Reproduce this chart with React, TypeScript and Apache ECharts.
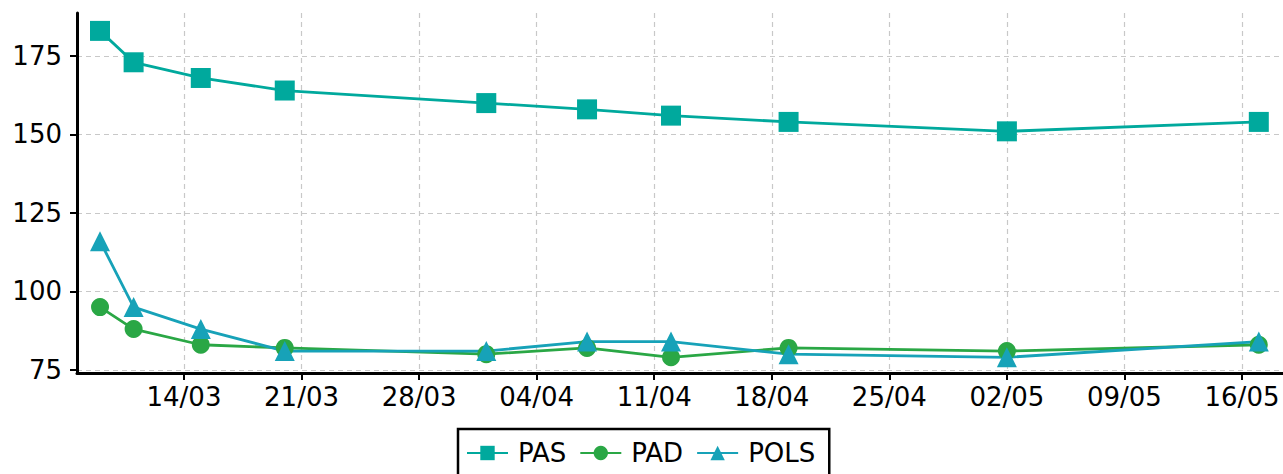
import React, { useEffect, useRef } from "react";
import * as echarts from "echarts";

const dates = [
  "2021-03-09", "2021-03-11", "2021-03-15", "2021-03-20", "2021-04-01",
  "2021-04-07", "2021-04-12", "2021-04-19", "2021-05-02", "2021-05-17",
];
const pas = [183, 173, 168, 164, 160, 158, 156, 154, 151, 154];
const pad = [95, 88, 83, 82, 80, 82, 79, 82, 81, 83];
const pols = [116, 95, 88, 81, 81, 84, 84, 80, 79, 84];
const xTicks = [
  "2021-03-14", "2021-03-21", "2021-03-28", "2021-04-04", "2021-04-11",
  "2021-04-18", "2021-04-25", "2021-05-02", "2021-05-09", "2021-05-16",
];
const yTicks = [75, 100, 125, 150, 175];

const DAY = 86400000;
const ts = (s: string) => {
  const [y, m, d] = s.split("-").map(Number);
  return Date.UTC(y, m - 1, d);
};
const fmt = (v: number) => {
  const d = new Date(v);
  const dd = String(d.getUTCDate()).padStart(2, "0");
  const mm = String(d.getUTCMonth() + 1).padStart(2, "0");
  return dd + "/" + mm;
};

export default function App() {
  const ref = useRef<HTMLDivElement>(null);
  useEffect(() => {
    const chart = echarts.init(ref.current!, null, { renderer: "svg" });
    const font = "DejaVu Sans";
    const tickVals = xTicks.map(ts);
    const mk = (name: string, vals: number[], color: string, symbol: string, size: number) => ({
      name,
      type: "line",
      data: dates.map((d, i) => [ts(d), vals[i]]),
      symbol,
      symbolSize: size,
      itemStyle: { color },
      lineStyle: { color, width: 2.8 },
      z: 3,
    });
    chart.setOption({
      animation: false,
      textStyle: { fontFamily: font },
      grid: { left: 77, right: 0, top: 13, bottom: 101, containLabel: false },
      xAxis: {
        type: "value",
        min: ts("2021-03-14") - 6.371 * DAY,
        max: ts("2021-05-16") + 2.441 * DAY,
        axisLine: { show: true, onZero: false, lineStyle: { color: "#000", width: 3 } },
        axisTick: {
          show: true,
          length: 7,
          lineStyle: { color: "#000", width: 2 },
          customValues: tickVals,
        },
        axisLabel: {
          customValues: tickVals,
          formatter: (v: number) => fmt(v),
          color: "#000",
          fontSize: 26,
          fontFamily: font,
          margin: 11,
        },
        splitLine: { show: true, lineStyle: { color: "#c8c8c8", type: [5, 4], width: 1.2 } },
      },
      yAxis: {
        type: "value",
        min: 74,
        max: 188.7,
        axisLine: { show: true, onZero: false, lineStyle: { color: "#000", width: 3 } },
        axisTick: {
          show: true,
          length: 7,
          lineStyle: { color: "#000", width: 2 },
          customValues: yTicks,
        },
        axisLabel: {
          customValues: yTicks,
          color: "#000",
          fontSize: 26,
          fontFamily: font,
          margin: 15,
        },
        splitLine: { show: true, lineStyle: { color: "#c8c8c8", type: [5, 4], width: 1.2 } },
      },
      legend: {
        top: 429,
        left: 458,
        data: ["PAS", "PAD", "POLS"],
        borderColor: "#000",
        borderWidth: 2.5,
        padding: [11, 14, 14, 8],
        itemWidth: 41,
        itemHeight: 18,
        itemGap: 13,
        textStyle: { fontSize: 26, color: "#000", fontFamily: font, padding: [0, 0, 0, 5] },
      },
      series: [
        mk("PAS", pas, "#00a99d", "rect", 20),
        mk("PAD", pad, "#2aa745", "circle", 18),
        mk("POLS", pols, "#17a2b8", "triangle", 20),
      ],
    });
    return () => chart.dispose();
  }, []);
  return (
    <div
      ref={ref}
      style={{ position: "absolute", left: 0, top: 0, width: 1283, height: 474 }}
    />
  );
}
